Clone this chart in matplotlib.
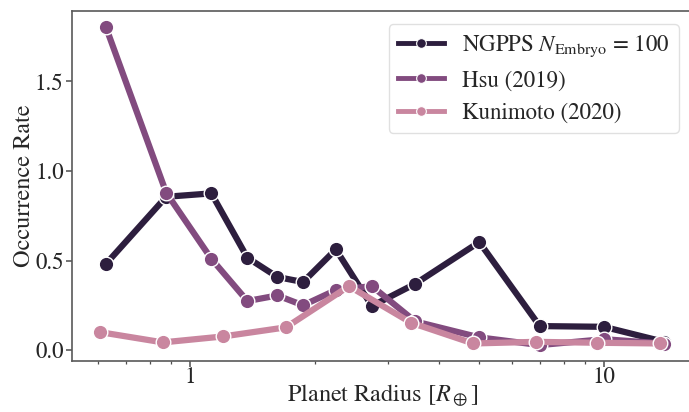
import numpy as np
import matplotlib
matplotlib.use('Agg')
import matplotlib.pyplot as plt
from matplotlib.lines import Line2D

# --- Data ---
radius_bins = [0.625, 0.875, 1.125, 1.375, 1.625, 1.875, 2.25, 2.75, 3.5, 5.0, 7.0, 10.0, 14.0]
ngpps_rate = [0.48, 0.856, 0.875, 0.516, 0.408, 0.38, 0.562, 0.246, 0.37, 0.603, 0.134, 0.13, 0.046]
hsu_rate = [1.806, 0.879, 0.51, 0.274, 0.305, 0.25, 0.335, 0.357, 0.16, 0.071, 0.028, 0.061, 0.036]

kuni_radius = [0.606, 0.859, 1.2, 1.705, 2.42, 3.42, 4.83, 6.84, 9.63, 13.65]
kuni_rate = [0.10, 0.043, 0.076, 0.127, 0.357, 0.153, 0.037, 0.046, 0.041, 0.037]

labels = [r'NGPPS $N_\mathrm{Embryo}$ = 100', 'Hsu (2019)', 'Kunimoto (2020)']
colors = ['#2d1e3e', '#824b7f', '#c9869f']

plt.rcParams['font.family'] = 'STIXGeneral'
plt.rcParams['mathtext.fontset'] = 'stix'

fig = plt.figure(figsize=(6.89, 4.12), dpi=100)
ax = fig.add_axes([0.1045, 0.1238, 0.9005, 0.8502])

series = [(radius_bins, ngpps_rate), (radius_bins, hsu_rate), (kuni_radius, kuni_rate)]
for (x, y), c in zip(series, colors):
    ax.plot(x, y, color=c, lw=4.5, marker='o', ms=10.5,
            markeredgecolor='white', markeredgewidth=1.0, solid_capstyle='butt')

ax.set_xscale('log')
ax.set_xticks([1, 10])
ax.set_xticklabels(['1', '10'])
ax.set_yticks([0.0, 0.5, 1.0, 1.5])
ax.set_yticklabels(['0.0', '0.5', '1.0', '1.5'])

ax.set_xlabel(r'Planet Radius [$R_\oplus$]', fontsize=17.5, color='#262626')
ax.set_ylabel('Occurrence Rate', fontsize=17.5, color='#262626')
ax.xaxis.set_label_coords(0.5, -0.06)
ax.yaxis.set_label_coords(-0.06, 0.5)
ax.tick_params(axis='both', which='major', labelsize=16.5, length=4, width=1.1, pad=2,
               colors='0.3', labelcolor='#262626')
ax.tick_params(axis='x', which='major', pad=0)
ax.tick_params(axis='x', which='minor', length=2.5, width=0.9, colors='0.3')

for s in ax.spines.values():
    s.set_color('0.35')
    s.set_linewidth(1.2)
ax.spines['right'].set_visible(False)

handles = [Line2D([], [], color=c, lw=3.5, marker='o', ms=7,
                  markeredgecolor='white', markeredgewidth=0.8) for c in colors]
leg = ax.legend(handles, labels, loc='upper right', fontsize=16.5, frameon=True,
                fancybox=True, borderaxespad=0.6, handlelength=2.0, labelspacing=0.48,
                bbox_to_anchor=(1.0, 1.0))
leg.get_frame().set_edgecolor('0.85')
for t in leg.get_texts():
    t.set_color('#262626')

fig.savefig('out.png', dpi=100)
